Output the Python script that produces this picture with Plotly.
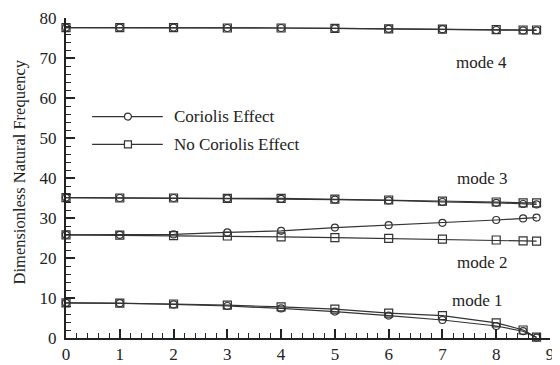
import plotly.graph_objects as go

# x: dimensionless rotating speed
x = [0, 1, 2, 3, 4, 5, 6, 7, 8, 8.5, 8.75]

mode1_cor = [8.8, 8.7, 8.4, 8.0, 7.4, 6.6, 5.6, 4.5, 3.0, 1.7, 0.1]
mode1_nocor = [8.8, 8.7, 8.5, 8.2, 7.8, 7.2, 6.2, 5.6, 3.8, 2.0, 0.2]
mode2_cor = [25.8, 25.8, 25.9, 26.4, 26.8, 27.6, 28.2, 28.8, 29.5, 29.9, 30.1]
mode2_nocor = [25.8, 25.7, 25.6, 25.5, 25.3, 25.1, 24.9, 24.7, 24.5, 24.3, 24.2]
mode3_cor = [35.1, 35.0, 35.0, 34.9, 34.8, 34.6, 34.4, 34.0, 33.8, 33.5, 33.4]
mode3_nocor = [35.1, 35.0, 35.0, 34.9, 34.9, 34.7, 34.5, 34.2, 34.0, 33.8, 33.8]
mode4_cor = [77.6, 77.6, 77.6, 77.5, 77.5, 77.4, 77.3, 77.2, 77.0, 76.9, 76.9]
mode4_nocor = [77.6, 77.6, 77.6, 77.5, 77.5, 77.4, 77.3, 77.2, 77.1, 77.0, 77.0]

series_names = ["Coriolis Effect", "No Coriolis Effect"]
mode_labels = ["mode 1", "mode 2", "mode 3", "mode 4"]
mode_label_pos = [(7.66, 9.4), (7.75, 19.0), (7.75, 40.0), (7.73, 69.0)]
y_title = "Dimensionless Natural Frequency"

FONT = "Liberation Serif, Times New Roman, serif"
INK = "#222222"

fig = go.Figure()

cor = [mode1_cor, mode2_cor, mode3_cor, mode4_cor]
nocor = [mode1_nocor, mode2_nocor, mode3_nocor, mode4_nocor]

for ys in cor:
    fig.add_trace(go.Scatter(
        x=x, y=ys, mode="lines+markers", showlegend=False, cliponaxis=False,
        line=dict(color="#333333", width=1.2),
        marker=dict(symbol="circle-open", size=7, color="#333333", line=dict(width=1.2)),
    ))
for ys in nocor:
    fig.add_trace(go.Scatter(
        x=x, y=ys, mode="lines+markers", showlegend=False, cliponaxis=False,
        line=dict(color="#333333", width=1.2),
        marker=dict(symbol="square-open", size=8, color="#333333", line=dict(width=1.2)),
    ))

# mode labels
for lab, (lx, ly) in zip(mode_labels, mode_label_pos):
    fig.add_annotation(x=lx, y=ly, text=lab, showarrow=False,
                       font=dict(family=FONT, size=17, color=INK),
                       xanchor="center", yanchor="middle")

# custom legend
leg_rows = [0.692, 0.605]
symbols = ["circle", "rect"]
for name, yy, sym in zip(series_names, leg_rows, symbols):
    fig.add_shape(type="line", xref="paper", yref="paper",
                  x0=0.054, x1=0.2, y0=yy, y1=yy,
                  line=dict(color="#333333", width=1.2))
    fig.add_shape(type=sym, xref="paper", yref="paper",
                  xsizemode="pixel", ysizemode="pixel",
                  xanchor=0.128, yanchor=yy,
                  x0=-3.5, x1=3.5, y0=-3.5, y1=3.5,
                  fillcolor="white", line=dict(color="#333333", width=1.2))
    fig.add_annotation(xref="paper", yref="paper", x=0.219, y=yy, text=name,
                       showarrow=False, xanchor="left", yanchor="middle",
                       font=dict(family=FONT, size=17, color=INK))

# y-axis title
fig.add_annotation(xref="paper", yref="paper", x=-0.096, y=0.519, text=y_title,
                   textangle=-90, showarrow=False, xanchor="center", yanchor="middle",
                   font=dict(family=FONT, size=16.5, color=INK))

# page body has an 8px default margin, so the figure is sized to fit the window
fig.update_layout(
    width=552, height=357,
    margin=dict(l=58, r=10, t=10, b=27),
    paper_bgcolor="white", plot_bgcolor="white",
    font=dict(family=FONT, size=17, color=INK),
)
fig.update_xaxes(
    range=[0, 9], showgrid=False, zeroline=False, automargin=False,
    showline=True, linecolor="#222222", linewidth=2,
    ticks="inside", ticklen=9, tickwidth=1.5, tickcolor="#222222",
    tickvals=list(range(10)), ticklabelstandoff=0,
    minor=dict(dtick=0.2, ticks="inside", ticklen=5, tickwidth=1.2, tickcolor="#222222"),
    tickfont=dict(family=FONT, size=17, color=INK),
)
fig.update_yaxes(
    range=[0, 80], showgrid=False, zeroline=False, automargin=False,
    showline=True, linecolor="#222222", linewidth=2,
    ticks="inside", ticklen=9, tickwidth=1.5, tickcolor="#222222",
    tickvals=list(range(0, 81, 10)), ticklabelstandoff=4,
    minor=dict(dtick=2, ticks="inside", ticklen=5, tickwidth=1.2, tickcolor="#222222"),
    tickfont=dict(family=FONT, size=17, color=INK),
)

fig.write_html("out.html")
